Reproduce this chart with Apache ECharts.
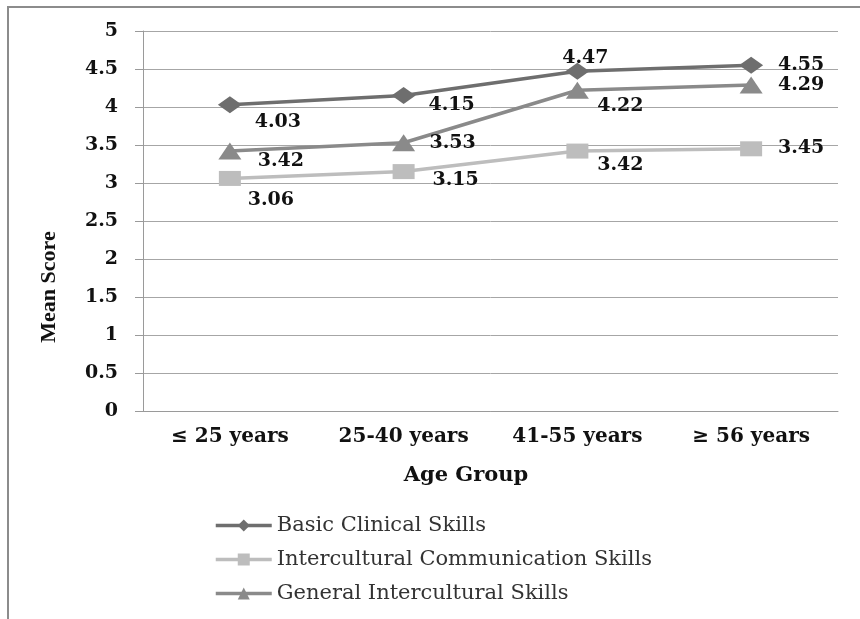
<!DOCTYPE html>
<html>
<head>
<meta charset="utf-8">
<title>Mean Score by Age Group</title>
<script src="https://cdn.jsdelivr.net/npm/echarts@6/dist/echarts.min.js"></script>
<style>
    html, body { margin: 0; padding: 0; background: #fff; }
    #myChart { width: 860px; height: 619px; }
</style>
</head>
<body>
<div id="myChart"></div>
<script>
// categories and values
const ageGroups = ['\u2264 25 years', '25-40 years', '41-55 years', '\u2265 56 years'];
const basicClinical = [4.03, 4.15, 4.47, 4.55];
const interculturalComm = [3.06, 3.15, 3.42, 3.45];
const generalIntercultural = [3.42, 3.53, 4.22, 4.29];
const yTicks = {min: 0, max: 5, interval: 0.5};

// where each value label sits, relative to its point (px)
const basicOffsets = [[48, 17], [48, 9], [8, -13], [50, 0]];
const commOffsets = [[41, 22], [52, 8], [43, 14], [50, -1]];
const generalOffsets = [[51, 10], [49, 0], [43, 16], [50, 0]];

const serif = 'DejaVu Serif';

function withLabels (values, offsets) {
    return values.map((v, i) => ({
        value: v,
        label: {offset: offsets[i]}
    }));
}

function makeSeries (name, values, offsets, color, symbol, size) {
    return {
        name: name,
        type: 'line',
        data: withLabels(values, offsets),
        symbol: symbol,
        symbolSize: size,
        itemStyle: {color: color},
        lineStyle: {color: color, width: 3.5},
        label: {
            show: true,
            position: 'inside',
            fontFamily: serif,
            fontWeight: 'bold',
            fontSize: 19,
            color: '#111'
        },
        animation: false
    };
}

let myChart = echarts.init(document.getElementById('myChart'));
myChart.setOption({
    backgroundColor: '#fff',
    animation: false,
    grid: {
        left: 143,
        right: 22,
        top: 31,
        bottom: 208
    },
    legend: {
        orient: 'vertical',
        left: 209,
        top: 510,
        itemWidth: 56,
        itemHeight: 15,
        itemGap: 13,
        lineStyle: {width: 3.5},
        textStyle: {
            fontFamily: serif,
            fontSize: 21,
            color: '#333'
        },
        data: ['Basic Clinical Skills', 'Intercultural Communication Skills', 'General Intercultural Skills']
    },
    xAxis: {
        type: 'category',
        data: ageGroups,
        boundaryGap: true,
        axisLine: {show: true, lineStyle: {color: '#9a9a9a', width: 1}},
        axisTick: {show: false},
        axisLabel: {
            margin: 16,
            fontFamily: serif,
            fontWeight: 'bold',
            fontSize: 20,
            color: '#111'
        },
        splitLine: {show: false}
    },
    yAxis: {
        type: 'value',
        min: yTicks.min,
        max: yTicks.max,
        interval: yTicks.interval,
        axisLine: {show: true, lineStyle: {color: '#9a9a9a', width: 1}},
        axisTick: {show: true, inside: false, length: 8, lineStyle: {color: '#9a9a9a'}},
        axisLabel: {
            margin: 25,
            fontFamily: serif,
            fontWeight: 'bold',
            fontSize: 19,
            color: '#111'
        },
        splitLine: {show: true, lineStyle: {color: '#a6a6a6', width: 1}}
    },
    graphic: [
        {
            type: 'rect',
            silent: true,
            z: -10,
            shape: {x: 8, y: 7, width: 900, height: 700},
            style: {fill: 'none', stroke: '#8c8c8c', lineWidth: 2}
        },
        {
            type: 'text',
            x: 466,
            y: 476,
            style: {
                text: 'Age Group',
                fontFamily: serif,
                fontWeight: 'bold',
                fontSize: 21,
                fill: '#111',
                align: 'center',
                verticalAlign: 'middle'
            }
        },
        {
            type: 'text',
            x: 49,
            y: 287,
            rotation: Math.PI / 2,
            style: {
                text: 'Mean Score',
                fontFamily: 'Liberation Serif',
                fontWeight: 'bold',
                fontSize: 22,
                fill: '#111',
                align: 'center',
                verticalAlign: 'middle'
            }
        }
    ],
    series: [
        makeSeries('Basic Clinical Skills', basicClinical, basicOffsets, '#6e6e6e', 'diamond', [24, 17]),
        makeSeries('Intercultural Communication Skills', interculturalComm, commOffsets, '#bdbdbd', 'rect', [22, 15]),
        makeSeries('General Intercultural Skills', generalIntercultural, generalOffsets, '#8a8a8a', 'triangle', [23, 17])
    ]
});
</script>
</body>
</html>
